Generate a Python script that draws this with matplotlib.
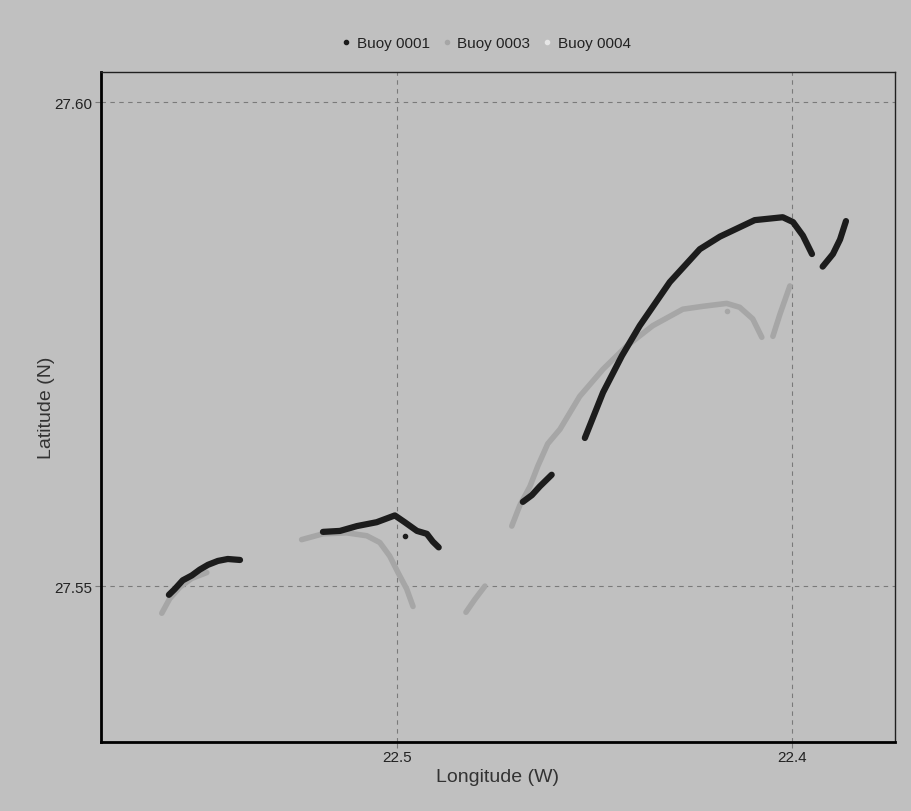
import matplotlib
matplotlib.use("Agg")
import matplotlib.pyplot as plt
from matplotlib.lines import Line2D

plt.rcParams['font.family'] = ['Liberation Sans', 'DejaVu Sans']

# Buoy 0001 track pieces (longitude W, latitude N)
b1_lon = [
    [22.5577, 22.5562, 22.5542, 22.5519, 22.5499, 22.5478, 22.5453, 22.5428, 22.5397],
    [22.5187, 22.5144, 22.5101, 22.5051, 22.5005, 22.4980, 22.4949, 22.4924, 22.4909, 22.4894],
    [22.4681, 22.4658, 22.4638, 22.4618, 22.4608],
    [22.4524, 22.4478, 22.4430, 22.4385, 22.4309, 22.4233, 22.4182, 22.4094, 22.4023,
     22.3997, 22.3972, 22.3949],
    [22.3922, 22.3896, 22.3878, 22.3863],
]
b1_lat = [
    [27.5491, 27.5497, 27.5506, 27.5511, 27.5517, 27.5522, 27.5526, 27.5528, 27.5527],
    [27.5556, 27.5557, 27.5562, 27.5566, 27.5573, 27.5566, 27.5557, 27.5554, 27.5546, 27.5540],
    [27.5587, 27.5594, 27.5603, 27.5611, 27.5615],
    [27.5653, 27.5700, 27.5738, 27.5769, 27.5814, 27.5848, 27.5861, 27.5878, 27.5881,
     27.5876, 27.5862, 27.5843],
    [27.5830, 27.5843, 27.5858, 27.5877],
]
b1_stray_lon = [22.4980]
b1_stray_lat = [27.5552]

# Buoy 0003 track pieces
b3_lon = [
    [22.5595, 22.5575, 22.5549, 22.5519, 22.5481],
    [22.5241, 22.5187, 22.5127, 22.5076, 22.5043, 22.5018, 22.4997, 22.4975, 22.4959],
    [22.4825, 22.4803, 22.4777],
    [22.4709, 22.4689, 22.4663, 22.4643, 22.4618, 22.4587, 22.4537, 22.4478, 22.4418,
     22.4352, 22.4276, 22.4225, 22.4165, 22.4132, 22.4099, 22.4076],
    [22.4048, 22.4030, 22.4005],
]
b3_lat = [
    [27.5472, 27.5487, 27.5499, 27.5508, 27.5514],
    [27.5548, 27.5554, 27.5555, 27.5552, 27.5545, 27.5531, 27.5514, 27.5497, 27.5479],
    [27.5473, 27.5486, 27.5500],
    [27.5562, 27.5583, 27.5603, 27.5624, 27.5647, 27.5662, 27.5696, 27.5724, 27.5748,
     27.5769, 27.5786, 27.5789, 27.5792, 27.5788, 27.5776, 27.5757],
    [27.5758, 27.5781, 27.5810],
]
b3_stray_lon = [22.4165]
b3_stray_lat = [27.5784]

names = ['Buoy 0001', 'Buoy 0003', 'Buoy 0004']
colors = ['#1c1c1c', '#a6a6a6', '#e6e6e6']
bg = '#c0c0c0'

fig = plt.figure(figsize=(9.12, 8.12), dpi=100, facecolor=bg)
ax = fig.add_axes([0.1107, 0.0850, 0.8706, 0.8251], facecolor=bg)

for lon, lat in zip(b3_lon, b3_lat):
    ax.plot(lon, lat, color=colors[1], lw=4, solid_capstyle='round', zorder=3)
ax.plot(b3_stray_lon, b3_stray_lat, 'o', color=colors[1], ms=3, zorder=3)
for lon, lat in zip(b1_lon, b1_lat):
    ax.plot(lon, lat, color=colors[0], lw=4.5, solid_capstyle='round', zorder=4)
ax.plot(b1_stray_lon, b1_stray_lat, 'o', color=colors[0], ms=3, zorder=4)

ax.set_xlim(22.5749, 22.3739)
ax.set_ylim(27.5339, 27.6031)
ax.set_xticks([22.5, 22.4])
ax.set_xticklabels(['22.5', '22.4'])
ax.set_yticks([27.55, 27.60])
ax.set_yticklabels(['27.55', '27.60'])
ax.grid(True, color='#7a7a7a', ls=(0, (4, 4)), lw=0.8)
ax.set_axisbelow(True)
ax.tick_params(length=4, width=0.8, color='#7a7a7a', labelsize=11, pad=2,
               labelcolor='#222222')

for side in ['left', 'bottom']:
    ax.spines[side].set_linewidth(2)
    ax.spines[side].set_color('#000000')
for side in ['top', 'right']:
    ax.spines[side].set_linewidth(1)
    ax.spines[side].set_color('#202020')

ax.set_xlabel('Longitude (W)', fontsize=14, color='#333333', labelpad=3)
ax.set_ylabel('Latitude (N)', fontsize=14, color='#333333', labelpad=0)

handles = [Line2D([], [], ls='none', marker='o', ms=3, color=c) for c in colors]
fig.legend(handles, names, loc='center', bbox_to_anchor=(0.533, 0.946), ncol=3,
           frameon=False, fontsize=11, handlelength=0.6, handletextpad=0.4,
           columnspacing=0.8, labelcolor='#222222')

fig.savefig('out.png', dpi=100, facecolor=bg)
